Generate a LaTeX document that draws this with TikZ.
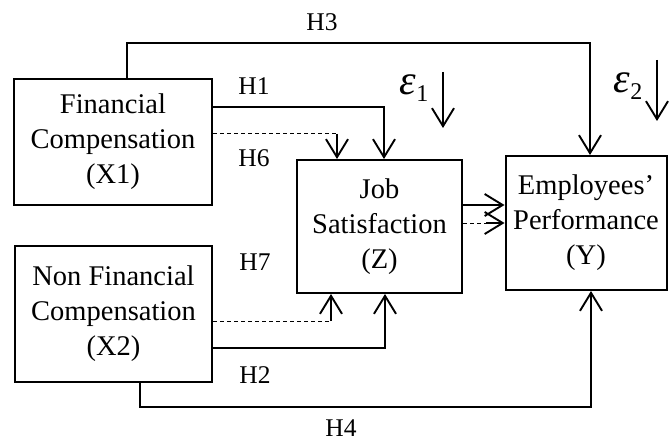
\documentclass[tikz,border=0pt]{standalone}
\usepackage{fontspec}
\setmainfont{Liberation Serif}
\usetikzlibrary{arrows.meta}
\begin{document}
\begin{tikzpicture}[x=1pt,y=-1pt,
  box/.style={draw, line width=2pt, align=center, inner sep=0pt, font=\fontsize{28.5}{35}\selectfont},
  lbl/.style={font=\fontsize{25.5}{30}\selectfont, inner sep=0pt},
  arr/.style={line width=1.3pt, -{Straight Barb[length=18pt,width=22pt,line width=1.9pt]}},
  dsh/.style={line width=1pt, dash pattern=on 4pt off 3pt},
  epsf/.style={inner sep=0pt}
]
\useasboundingbox (0,0) rectangle (669,441);
% boxes
\node[box, minimum width=198pt, minimum height=126pt] (x1) at (113,142) {Financial\\Compensation\\(X1)};
\node[box, minimum width=197pt, minimum height=136pt] (x2) at (113.5,314) {Non Financial\\Compensation\\(X2)};
\node[box, minimum width=165pt, minimum height=133pt] (z) at (379.5,226.5) {Job\\Satisfaction\\(Z)};
\node[box, minimum width=161pt, minimum height=134pt] (y) at (586,223) {Employees'\\Performance\\(Y)};
% routing points
\coordinate (h3l) at (127,43);
\coordinate (h3r) at (590,43);
\coordinate (h1) at (384,107);
\coordinate (h6) at (337,134);
\coordinate (h7) at (331,321);
\coordinate (h2) at (385,348);
\coordinate (h4l) at (140,407);
\coordinate (h4r) at (591,407);
\coordinate (zy1) at (0,205);
\coordinate (zy2) at (0,223);
% connectors
\draw[arr] (x1.north -| h3l) -- (h3l) -- (h3r) -- (y.north -| h3r);
\draw[arr] (x1.east |- h1) -- (h1) -- (z.north -| h1);
\draw[dsh] (x1.east |- h6) -- (h6);
\draw[arr] (h6) -- (z.north -| h6);
\draw[dsh] (x2.east |- h7) -- (h7);
\draw[arr] (h7) -- (z.south -| h7);
\draw[arr] (x2.east |- h2) -- (h2) -- (z.south -| h2);
\draw[arr] (x2.south -| h4l) -- (h4l) -- (h4r) -- (y.south -| h4r);
\draw[arr] (z.east |- zy1) -- (y.west |- zy1);
\coordinate (zyd) at (486,223);
\draw[dsh] (z.east |- zy2) -- (zyd);
\draw[arr] (zyd) -- (y.west |- zy2);
% labels
\node[lbl] (lh3) at (322,22) {H3};
\node[lbl] (lh1) at (254,86) {H1};
\node[lbl] (lh6) at (254,158) {H6};
\node[lbl] (lh7) at (255,262) {H7};
\node[lbl] (lh2) at (255,375) {H2};
\node[lbl] (lh4) at (341,428) {H4};
% error terms
\node[epsf] (eps1) at (414,88) {\fontsize{42}{42}\selectfont\itshape ε\raisebox{-7pt}{\upshape\fontsize{24}{24}\selectfont 1}};
\node[epsf] (eps2) at (628,86) {\fontsize{42}{42}\selectfont\itshape ε\raisebox{-7pt}{\upshape\fontsize{24}{24}\selectfont 2}};
\coordinate (e1a) at (443,72);
\coordinate (e1b) at (443,128);
\coordinate (e2a) at (657,60);
\coordinate (e2b) at (657,121);
\draw[arr] (e1a) -- (e1b);
\draw[arr] (e2a) -- (e2b);
\end{tikzpicture}
\end{document}
